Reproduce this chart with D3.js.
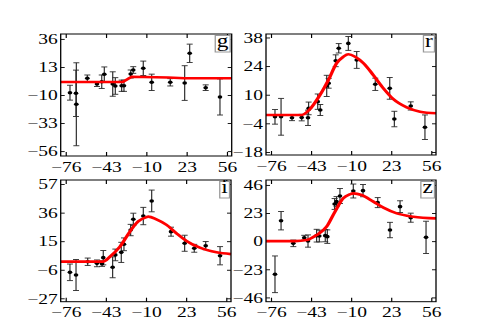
<!DOCTYPE html>
<html>
<head>
<meta charset="utf-8">
<script src="https://cdn.jsdelivr.net/npm/d3@7/dist/d3.min.js"></script>
<style>
  html, body { margin: 0; padding: 0; background: #fff; }
</style>
</head>
<body>
<div id="chart"></div>
<script>
// Figure size and horizontal stretch of the original rendering
const width = 485;
const height = 336;
const S = 1.3; // text and markers look wider than tall in the reference

const serif = '"Liberation Serif", "Times New Roman", serif';

// Shared x ticks (days)
const xTicks = [-76, -43, -10, 23, 56];
const xDomain = [-80, 60];

// Observations: [day, value, error]
const gPoints = [
  [-72.4, -8.1, 6.1], [-67.5, -8.6, 19], [-67.2, -17.6, 34], [-58.2, 3.7, 2.7],
  [-50.3, -1.0, 2.0], [-44.3, 7.0, 6.0], [-46.4, 0.9, 5.5], [-37.4, -1.0, 10],
  [-35.3, -2.6, 6.8], [-30.1, -2.4, 4.6], [-28.2, -2.4, 4.6], [-22.7, 7.2, 3.3],
  [-20.6, 10.5, 2.7], [-12.4, 11.9, 5.9], [-5.5, 0.4, 6.7], [9.7, 0.4, 3.0],
  [21.5, -0.2, 14.2], [25.6, 24.2, 7.5], [38.7, -4.0, 2.3], [50.4, -11.6, 14.8]
];
const rPoints = [
  [-72.6, -0.8, 3.6], [-67.6, -0.8, 9.0], [-58.6, -1.3, 1.4], [-50.6, -1.2, 1.6],
  [-45.4, -1.3, 3.75], [-44.9, 3.3, 3.1], [-37.4, 6.6, 3.75], [-35.3, 2.5, 2.7],
  [-30.0, 14.3, 5.2], [-28.4, 15.6, 2.4], [-22.6, 26.6, 2.9], [-20.1, 32.7, 2.3],
  [-12.2, 35.1, 3.4], [-5.3, 27.0, 4.1], [10.0, 15.1, 3.0], [21.9, 13.1, 5.3],
  [25.7, -1.9, 3.8], [39.2, 4.5, 2.0], [50.9, -5.9, 6.0]
];
const iPoints = [
  [-72.4, -7.9, 6.1], [-67.4, -9.9, 11.4], [-57.8, -0.1, 2.7], [-50.2, -1.3, 2.5],
  [-45.0, 2.9, 5.3], [-46.0, -1.5, 2.0], [-37.3, -4.2, 7.7], [-35.1, 4.9, 4.3],
  [-30.2, 6.8, 7.4], [-28.0, 12.7, 4.7], [-22.5, 23.2, 4.2], [-20.3, 31.1, 4.5],
  [-12.1, 33.5, 6.4], [-5.2, 44.6, 8.0], [10.7, 22.0, 3.3], [21.9, 13.5, 5.9],
  [29.8, 9.8, 2.9], [39.2, 11.7, 3.0], [51.0, 4.3, 6.7]
];
const zPoints = [
  [-72.6, -27.1, 15], [-67.6, 16.7, 7.5], [-57.5, -1.8, 2.7], [-48.5, 2.8, 2.0],
  [-45.4, 0.1, 5.0], [-38.3, 4.5, 5.2], [-36.1, 4.2, 4.8], [-31.2, 4.5, 5.0],
  [-29.5, 3.7, 5.5], [-23.5, 30.4, 4.4], [-21.9, 32.3, 4.1], [-19.1, 36.9, 6.1],
  [-8.1, 41.0, 5.7], [-0.1, 41.3, 5.0], [12.0, 31.5, 4.1], [22.1, 9.1, 6.3],
  [30.4, 28.2, 4.8], [39.2, 19.2, 3.7], [51.8, 3.1, 13.2]
];

// Model curves: [day, value]
const gModel = [[-80, 0.7], [-29.2, 0.7], [-21.9, 5.0], [-12.4, 4.7], [8, 4.3], [21.5, 3.7], [60, 3.7]];
const rModel = [
  [-80, 0.1], [-50.6, 0.1], [-44.5, 2.5], [-35.5, 9.9], [-28.6, 17.2], [-21.8, 25.4],
  [-16.3, 28.6], [-12.2, 29.8], [-6.6, 28.6], [0.3, 25.4], [8.4, 19.6], [16.7, 13.1],
  [24.9, 7.8], [35.9, 3.8], [46.9, 1.7], [60, 0.9]
];
const iModel = [
  [-80, 0], [-45.3, 0], [-39.5, 3.6], [-31.3, 11.0], [-23.1, 22.1], [-16.3, 29.5],
  [-9.4, 32.7], [-8.1, 33.1], [-1.3, 31.1], [7.0, 27.0], [15.2, 20.8], [23.4, 15.2],
  [34.4, 10.2], [48.1, 6.8], [60, 5.5]
];
const zModel = [
  [-80, 0], [-56.1, 0], [-46.5, 0.9], [-38.3, 5.0], [-30.1, 11.8], [-23.2, 24.1],
  [-16.4, 35.0], [-10.9, 38.3], [-8.1, 39.1], [-1.2, 37.7], [8.4, 32.3], [16.7, 27.4],
  [27.7, 22.7], [41.4, 20.0], [60, 18.6]
];

// y ticks per band
const gTicks = [36, 13, -10, -33, -56];
const rTicks = [38, 24, 10, -4, -18];
const iTicks = [57, 36, 15, -6, -27];
const zTicks = [46, 23, 0, -23, -46];

// Panel layout (screen px)
const panels = [
  { name: 'g', pts: gPoints, model: gModel, ticks: gTicks, yd: [-60, 40], curve: d3.curveLinear,
    left: 60.7, right: 231.7, top: 34, bottom: 156 },
  { name: 'r', pts: rPoints, model: rModel, ticks: rTicks, yd: [-19.5, 39.7], curve: d3.curveMonotoneX,
    left: 266, right: 436, top: 34, bottom: 155 },
  { name: 'i', pts: iPoints, model: iModel, ticks: iTicks, yd: [-29.5, 60], curve: d3.curveMonotoneX,
    left: 60.7, right: 231, top: 180, bottom: 301.7 },
  { name: 'z', pts: zPoints, model: zModel, ticks: zTicks, yd: [-49.5, 50], curve: d3.curveMonotoneX,
    left: 266, right: 436, top: 180, bottom: 301.7 }
];

const svg = d3.select('#chart')
  .append('svg')
  .attr('width', width)
  .attr('height', height)
  .attr('viewBox', `0 0 ${width / S} ${height}`)
  .attr('preserveAspectRatio', 'none');

const fmt = d => d < 0 ? '\u2212' + Math.abs(d) : String(d);

function styleAxis(g) {
  g.select('.domain').remove();
  g.attr('font-family', serif).attr('font-size', 15);
  g.selectAll('text').attr('fill', '#000');
  g.selectAll('line').attr('stroke', '#000').attr('stroke-width', 0.9);
}

panels.forEach(p => {
  const x = d3.scaleLinear().domain(xDomain).range([p.left / S, p.right / S]);
  const y = d3.scaleLinear().domain(p.yd).range([p.bottom, p.top]);
  const g = svg.append('g');

  // axes with inward ticks on all sides
  g.append('g')
    .attr('transform', `translate(0,${p.bottom})`)
    .call(d3.axisBottom(x).tickValues(xTicks).tickSize(-4).tickPadding(5).tickFormat(fmt))
    .call(styleAxis);
  g.append('g')
    .attr('transform', `translate(0,${p.top})`)
    .call(d3.axisTop(x).tickValues(xTicks).tickSize(-4).tickFormat(''))
    .call(styleAxis);
  g.append('g')
    .attr('transform', `translate(${p.left / S},0)`)
    .call(d3.axisLeft(y).tickValues(p.ticks).tickSize(-4 / S).tickPadding(3 / S).tickFormat(fmt))
    .call(styleAxis);
  g.append('g')
    .attr('transform', `translate(${p.right / S},0)`)
    .call(d3.axisRight(y).tickValues(p.ticks).tickSize(-4 / S).tickFormat(''))
    .call(styleAxis);

  // error bars
  const eb = g.append('g').attr('stroke', '#2a2a2a').attr('stroke-width', 0.9);
  eb.selectAll('.bar').data(p.pts).enter().append('line')
    .attr('x1', d => x(d[0])).attr('x2', d => x(d[0]))
    .attr('y1', d => y(d[1] - d[2])).attr('y2', d => y(d[1] + d[2]));
  eb.selectAll('.capTop').data(p.pts).enter().append('line')
    .attr('x1', d => x(d[0]) - 3 / S).attr('x2', d => x(d[0]) + 3 / S)
    .attr('y1', d => y(d[1] + d[2])).attr('y2', d => y(d[1] + d[2]));
  eb.selectAll('.capBot').data(p.pts).enter().append('line')
    .attr('x1', d => x(d[0]) - 3 / S).attr('x2', d => x(d[0]) + 3 / S)
    .attr('y1', d => y(d[1] - d[2])).attr('y2', d => y(d[1] - d[2]));

  g.selectAll('.pt').data(p.pts).enter().append('circle')
    .attr('cx', d => x(d[0])).attr('cy', d => y(d[1]))
    .attr('r', 1.8).attr('fill', '#000');

  // model curve
  g.append('path')
    .datum(p.model)
    .attr('fill', 'none')
    .attr('stroke', '#ff0000')
    .attr('stroke-width', 2.6)
    .attr('d', d3.line().x(d => x(d[0])).y(d => y(d[1])).curve(p.curve));

  // frame
  g.append('rect')
    .attr('x', p.left / S).attr('y', p.top)
    .attr('width', (p.right - p.left) / S).attr('height', p.bottom - p.top)
    .attr('fill', 'none').attr('stroke', '#000').attr('stroke-width', 1);

  // band label in a small box, top right
  const box = g.append('rect').attr('fill', '#fff').attr('stroke', '#999').attr('stroke-width', 1);
  const lab = g.append('text')
    .attr('font-family', serif).attr('font-size', 18).attr('fill', '#000')
    .attr('text-anchor', 'middle')
    .text(p.name);
  const tw = lab.node().getComputedTextLength();
  const bw = tw + 2.5;
  const bh = 16.5;
  const bx = p.right / S - 1.5 / S - bw;
  const by = p.top + 1.5;
  box.attr('x', bx).attr('y', by).attr('width', bw).attr('height', bh);
  lab.attr('x', bx + bw / 2).attr('y', by + 12);
});
</script>
</body>
</html>
